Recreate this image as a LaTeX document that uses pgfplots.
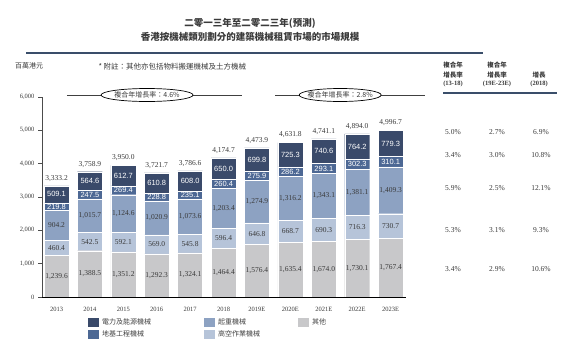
\documentclass[border=0pt]{standalone}
\usepackage{fontspec}
\setmainfont{Liberation Serif}
\setsansfont{Liberation Sans}
\newfontfamily\cjk{Noto Sans CJK TC}
\usepackage{pgfplots}
\pgfplotsset{compat=1.18}
\usepackage{pgfplotstable}
\usetikzlibrary{shapes.geometric}

\definecolor{cE}{HTML}{3A4A6A}
\definecolor{cD}{HTML}{4D6894}
\definecolor{cQ}{HTML}{8DA2C2}
\definecolor{cH}{HTML}{B6C4D9}
\definecolor{cO}{HTML}{C8C8CA}
\definecolor{rulec}{HTML}{3A4E6A}
\definecolor{txt}{HTML}{3A3A3A}

\pgfplotstableread{
x o h q d e t
0 1239.6 460.4 904.2 219.8 509.1 3333.2
1 1388.5 542.5 1015.7 247.5 564.6 3758.9
2 1351.2 592.1 1124.6 269.4 612.7 3950.0
3 1292.3 569.0 1020.9 228.8 610.8 3721.7
4 1324.1 545.8 1073.6 235.1 608.0 3786.6
5 1464.4 596.4 1203.4 260.4 650.0 4174.7
6 1576.4 646.8 1274.9 275.9 699.8 4473.9
7 1635.4 668.7 1316.2 286.2 725.3 4631.8
8 1674.0 690.3 1343.1 293.1 740.6 4741.1
9 1730.1 716.3 1381.1 302.3 764.2 4894.0
10 1767.4 730.7 1409.3 310.1 779.3 4996.7
}\data

\pgfplotsset{
  base/.style={at={(42pt,57pt)}, anchor=south west, scale only axis,
    width=364pt, height=200pt, xmin=-0.434, xmax=10.46, ymin=0, ymax=6000},
  lab/.style={draw=none, every node near coord/.style={anchor=center,
      font=\fontsize{7.5}{8}\selectfont, text=txt}},
  labw/.style={draw=none, every node near coord/.style={anchor=center,
      font=\sffamily\fontsize{7.5}{8}\selectfont, text=white}},
}

\begin{document}
\begin{tikzpicture}
\path[use as bounding box] (0pt,0pt) rectangle (564pt,354pt);
\begin{axis}[base,
  ybar stacked, bar width=25pt,
  axis x line=bottom, axis y line=left,
  axis line style={-},
  x axis line style={line width=1pt, black},
  y axis line style={line width=0.5pt, black!70},
  xtick={0,...,10},
  xticklabels={2013,2014,2015,2016,2017,2018,2019E,2020E,2021E,2022E,2023E},
  xtick style={draw=none},
  ytick={0,1000,...,6000},
  ytick style={black!70, line width=0.5pt},
  tick align=outside, major tick length=4pt,
  ticklabel style={font=\fontsize{6.5}{7}\selectfont, text=txt},
  xticklabel style={yshift=-3pt},
  /pgf/number format/1000 sep={,},
  /pgf/number format/assume math mode=true,
  axis on top,
  legend columns=3,
  legend cell align=left,
  legend image code/.code={\fill[#1, draw=none] (0pt,-4.5pt) rectangle (11pt,4.5pt);},
  legend style={draw=none, fill=none, at={(0.1264,-0.105)}, anchor=north west,
    inner sep=0pt, outer sep=0pt, /tikz/column sep=0pt, /tikz/row sep=2.5pt,
    nodes={inner xsep=3pt, inner ysep=1pt, font=\cjk\fontsize{7}{8}\selectfont, text=black!75}},
]
\addplot[fill=cO, draw=white, line width=0.4pt, forget plot] table[x=x,y=o]{\data};
\addplot[fill=cH, draw=white, line width=0.4pt, forget plot] table[x=x,y=h]{\data};
\addplot[fill=cQ, draw=white, line width=0.4pt, forget plot] table[x=x,y=q]{\data};
\addplot[fill=cD, draw=white, line width=0.4pt, forget plot] table[x=x,y=d]{\data};
\addplot[fill=cE, draw=white, line width=0.4pt, forget plot] table[x=x,y=e]{\data};
\addlegendimage{fill=cE, draw=none}
\addlegendimage{fill=cQ, draw=none}
\addlegendimage{fill=cO, draw=none}
\addlegendimage{fill=cD, draw=none}
\addlegendimage{fill=cH, draw=none}
\legend{\makebox[99pt][l]{電力及能源機械},\makebox[77pt][l]{起重機械},其他,\makebox[99pt][l]{地基工程機械},\makebox[77pt][l]{高空作業機械}}
\end{axis}

\begin{axis}[base, hide axis, clip=false,
  nodes near coords={\pgfmathprintnumber[fixed,fixed zerofill,precision=1,1000 sep={,},assume math mode=true]{\pgfplotspointmeta}},
  point meta=explicit]
\addplot[lab] table[x=x, y expr=\thisrow{o}/2, meta=o]{\data};
\addplot[lab] table[x=x, y expr=\thisrow{o}+\thisrow{h}/2, meta=h]{\data};
\addplot[lab] table[x=x, y expr=\thisrow{o}+\thisrow{h}+\thisrow{q}/2, meta=q]{\data};
\addplot[labw] table[x=x, y expr=\thisrow{o}+\thisrow{h}+\thisrow{q}+\thisrow{d}/2, meta=d]{\data};
\addplot[labw] table[x=x, y expr=\thisrow{o}+\thisrow{h}+\thisrow{q}+\thisrow{d}+\thisrow{e}/2, meta=e]{\data};
\addplot[draw=none, every node near coord/.style={anchor=south, yshift=1pt,
      font=\fontsize{7.5}{8}\selectfont, text=txt}] table[x=x, y=t, meta=t]{\data};
% CAGR brackets
\draw[black!75, line width=0.9pt] (axis cs:0.31,6060) -- (axis cs:5.55,6060);
\draw[black, line width=0.7pt, fill=white] (axis cs:2.71,6060) ellipse [x radius=46pt, y radius=6.5pt];
\node[font=\cjk\fontsize{7}{8}\selectfont, text=txt] at (axis cs:2.71,6060) {複合年增長率：4.6\%};
\draw[black!75, line width=0.9pt] (axis cs:6.54,6060) -- (axis cs:11.03,6060);
\draw[black, line width=0.7pt, fill=white] (axis cs:8.49,6060) ellipse [x radius=41pt, y radius=6.5pt];
\node[font=\cjk\fontsize{7}{8}\selectfont, text=txt] at (axis cs:8.49,6060) {複合年增長率：2.8\%};
\end{axis}

% titles
\node[font=\cjk\bfseries\fontsize{9.5}{10}\selectfont, text=txt] at (250pt,331pt) {二零一三年至二零二三年(預測)};
\node[font=\cjk\bfseries\fontsize{9.5}{10}\selectfont, text=txt] at (250pt,317pt) {香港按機械類別劃分的建築機械租賃市場的市場規模};
\draw[rulec, line width=1.8pt] (26pt,301pt) -- (483pt,301pt);
\node[font=\cjk\fontsize{7}{8}\selectfont, text=txt] at (29pt,288pt) {百萬港元};
\node[font=\cjk\fontsize{7.5}{8}\selectfont, text=txt, anchor=west] at (95pt,287pt) {* 附註：其他亦包括物料搬運機械及土方機械};

% right table header
\begin{scope}[every node/.style={font=\cjk\bfseries\fontsize{6.5}{7}\selectfont, text=txt}]
\node at (453pt,289pt) {複合年};
\node at (453pt,279pt) {增長率};
\node[font=\bfseries\fontsize{6.5}{7}\selectfont] at (453pt,270pt) {(13-18)};
\node at (497pt,289pt) {複合年};
\node at (497pt,279pt) {增長率};
\node[font=\bfseries\fontsize{6.5}{7}\selectfont] at (497pt,270pt) {(19E-23E)};
\node at (539pt,279pt) {增長};
\node[font=\bfseries\fontsize{6.5}{7}\selectfont] at (539pt,270pt) {(2018)};
\end{scope}
\draw[rulec, line width=1.8pt] (443pt,261pt) -- (557pt,261pt);
\begin{scope}[every node/.style={font=\fontsize{7.5}{8}\selectfont, text=txt}]
\node at (453pt,222pt) {5.0\%}; \node at (497pt,222pt) {2.7\%}; \node at (541pt,222pt) {6.9\%};
\node at (453pt,199pt) {3.4\%}; \node at (497pt,199pt) {3.0\%}; \node at (541pt,199pt) {10.8\%};
\node at (453pt,166pt) {5.9\%}; \node at (497pt,166pt) {2.5\%}; \node at (541pt,166pt) {12.1\%};
\node at (453pt,124pt) {5.3\%}; \node at (497pt,124pt) {3.1\%}; \node at (541pt,124pt) {9.3\%};
\node at (453pt,85pt) {3.4\%}; \node at (497pt,85pt) {2.9\%}; \node at (541pt,85pt) {10.6\%};
\end{scope}
\end{tikzpicture}
\end{document}
